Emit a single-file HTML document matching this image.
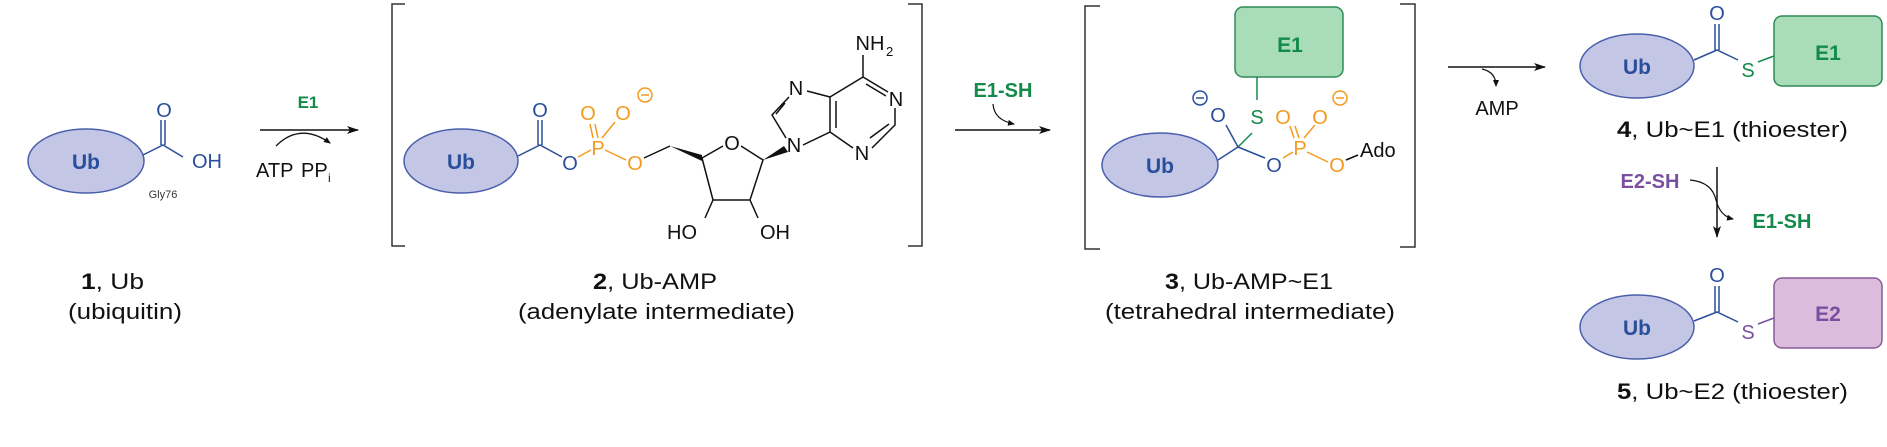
<!DOCTYPE html>
<html><head><meta charset="utf-8"><style>body{margin:0;background:#fff}svg{display:block}text{font-family:"Liberation Sans",Arial,sans-serif}</style></head><body>
<svg width="1887" height="447" viewBox="0 0 1887 447" xmlns="http://www.w3.org/2000/svg">
<defs><marker id="ah" markerWidth="12" markerHeight="8" refX="11" refY="4" orient="auto" markerUnits="userSpaceOnUse"><path d="M0,0 L12,4 L0,8 L3,4Z" fill="#111"/></marker>
<marker id="sh" markerWidth="7" markerHeight="6" refX="6" refY="3" orient="auto" markerUnits="userSpaceOnUse"><path d="M0,0 L7,3 L0,6Z" fill="#111"/></marker></defs>
<g fill="#c4c6e6" stroke="#4a5fab" stroke-width="1.5">
<ellipse cx="86" cy="161" rx="58" ry="32"/><ellipse cx="461" cy="161" rx="57" ry="32"/><ellipse cx="1160" cy="165" rx="58" ry="32"/><ellipse cx="1637" cy="66" rx="57" ry="32"/><ellipse cx="1637" cy="327" rx="57" ry="32"/></g>
<g font-weight="bold" font-size="21" fill="#2a4f9a" text-anchor="middle"><text x="86" y="169">Ub</text><text x="461" y="169">Ub</text><text x="1160" y="173">Ub</text><text x="1637" y="74">Ub</text><text x="1637" y="335">Ub</text></g>
<!-- 1 -->
<g stroke="#2a4f9a" stroke-width="1.5" fill="none"><path d="M143,155 L163,145 L183,157 M161,145 V120 M165,145 V120"/></g>
<g fill="#2a4f9a" font-size="20" text-anchor="middle"><text x="164" y="117">O</text><text x="207" y="168">OH</text></g>
<text x="163" y="198" font-size="11" fill="#333" text-anchor="middle">Gly76</text>
<line x1="260" y1="130" x2="358" y2="130" stroke="#111" stroke-width="1.5" marker-end="url(#ah)"/>
<path d="M276,146 Q300,122 330,143" stroke="#111" stroke-width="1.3" fill="none" marker-end="url(#sh)"/>
<text x="308" y="108" font-size="17" font-weight="bold" fill="#138a4a" text-anchor="middle">E1</text>
<text x="256" y="177" font-size="20" fill="#111">ATP</text><text x="301" y="177" font-size="20" fill="#111">PP</text><text x="328" y="182" font-size="12" fill="#111">i</text>
<!-- brackets -->
<g stroke="#333" stroke-width="1.5" fill="none"><path d="M405,4 H392 V246 H405"/><path d="M908,4 H922 V246 H908"/><path d="M1100,6 H1085 V249 H1100"/><path d="M1400,4 H1415 V247 H1400"/></g>
<!-- 2 -->
<g stroke="#2a4f9a" stroke-width="1.5" fill="none"><path d="M518,156 L540,145 L562,157 M538,145 V120 M542,145 V120"/></g>
<g fill="#2a4f9a" font-size="20" text-anchor="middle"><text x="540" y="117">O</text><text x="570" y="170">O</text></g>
<g stroke="#f39a1f" stroke-width="1.5" fill="none"><path d="M578,157 L591,150 M605,150 L626,160 M593,138 L590,124 M598,138 L595,124 M602,138 L615,122"/><circle cx="645" cy="95" r="7"/><path d="M641,95 H649"/></g>
<g fill="#f39a1f" font-size="20" text-anchor="middle"><text x="598" y="155">P</text><text x="588" y="120">O</text><text x="623" y="120">O</text><text x="635" y="170">O</text></g>
<g stroke="#111" stroke-width="1.5" fill="none"><path d="M644,158 L670,146 M702,158 L723,146 M741,146 L763,160 L750,200 L713,200 L702,158 M713,200 L705,218 M750,200 L758,218"/>
<path d="M789,97 L772,115 L786,138 M785,103 L776,114 M803,145 L830,132 L830,97 L807,91 M836,128 L836,101 M830,97 L863,77 L888,92 M863,77 V55 M866,84 L886,96 M895,108 L895,125 L872,148 M889,124 L870,138 M853,148 L830,132"/></g>
<path d="M670,146 L702,155 L702,161Z" fill="#111"/><path d="M763,160 L784,146 L788,152Z" fill="#111"/>
<g fill="#111" font-size="20" text-anchor="middle"><text x="732" y="150">O</text><text x="682" y="239">HO</text><text x="775" y="239">OH</text><text x="796" y="95">N</text><text x="794" y="152">N</text><text x="896" y="106">N</text><text x="862" y="160">N</text><text x="870" y="50">NH</text></g>
<text x="886" y="56" font-size="13" fill="#111">2</text>
<!-- arrow 2 -->
<line x1="955" y1="130" x2="1050" y2="130" stroke="#111" stroke-width="1.5" marker-end="url(#ah)"/>
<path d="M993,104 Q994,120 1014,124" stroke="#111" stroke-width="1.2" fill="none" marker-end="url(#sh)"/>
<text x="1003" y="97" font-size="20" font-weight="bold" fill="#138a4a" text-anchor="middle">E1-SH</text>
<!-- 3 -->
<rect x="1235" y="7" width="108" height="70" rx="8" fill="#a9dcb9" stroke="#2e8b57" stroke-width="1.5"/>
<text x="1290" y="52" font-size="21" font-weight="bold" fill="#138a4a" text-anchor="middle">E1</text>
<path d="M1257,77 V100 M1252,133 L1238,147" stroke="#138a4a" stroke-width="1.5"/>
<g stroke="#2a4f9a" stroke-width="1.5" fill="none"><path d="M1218,160 L1238,147 L1226,125 M1238,147 L1265,158"/><circle cx="1200" cy="98" r="7"/><path d="M1196,98 H1204"/></g>
<g fill="#2a4f9a" font-size="20" text-anchor="middle"><text x="1218" y="122">O</text><text x="1274" y="172">O</text></g>
<text x="1257" y="124" font-size="20" fill="#138a4a" text-anchor="middle">S</text>
<g stroke="#f39a1f" stroke-width="1.5" fill="none"><path d="M1283,158 L1293,152 M1307,152 L1328,162 M1294,138 L1290,126 M1299,138 L1295,126 M1304,138 L1315,125"/><circle cx="1340" cy="98" r="7"/><path d="M1336,98 H1344"/></g>
<g fill="#f39a1f" font-size="20" text-anchor="middle"><text x="1300" y="155">P</text><text x="1283" y="124">O</text><text x="1320" y="124">O</text><text x="1337" y="172">O</text></g>
<path d="M1346,160 L1358,155" stroke="#111" stroke-width="1.5"/>
<text x="1360" y="157" font-size="20" fill="#111">Ado</text>
<!-- AMP arrow -->
<line x1="1448" y1="67" x2="1545" y2="67" stroke="#111" stroke-width="1.5" marker-end="url(#ah)"/>
<path d="M1482,69 Q1496,72 1496,86" stroke="#111" stroke-width="1.2" fill="none" marker-end="url(#sh)"/>
<text x="1497" y="115" font-size="20" fill="#111" text-anchor="middle">AMP</text>
<!-- 4 -->
<g stroke="#2a4f9a" stroke-width="1.5" fill="none"><path d="M1694,60 L1717,50 L1738,60 M1715,50 V24 M1719,50 V24"/></g>
<text x="1717" y="20" font-size="20" fill="#2a4f9a" text-anchor="middle">O</text>
<text x="1748" y="77" font-size="20" fill="#138a4a" text-anchor="middle">S</text>
<path d="M1758,62 L1774,56" stroke="#138a4a" stroke-width="1.5"/>
<rect x="1774" y="16" width="108" height="70" rx="8" fill="#a9dcb9" stroke="#2e8b57" stroke-width="1.5"/>
<text x="1828" y="60" font-size="21" font-weight="bold" fill="#138a4a" text-anchor="middle">E1</text>
<!-- down arrow -->
<line x1="1717" y1="167" x2="1717" y2="237" stroke="#111" stroke-width="1.5" marker-end="url(#ah)"/>
<path d="M1690,180 Q1712,182 1716,200 Q1720,216 1733,219" stroke="#111" stroke-width="1.2" fill="none" marker-end="url(#sh)"/>
<text x="1650" y="188" font-size="20" font-weight="bold" fill="#7b4fa0" text-anchor="middle">E2-SH</text>
<text x="1782" y="228" font-size="20" font-weight="bold" fill="#138a4a" text-anchor="middle">E1-SH</text>
<!-- 5 -->
<g stroke="#2a4f9a" stroke-width="1.5" fill="none"><path d="M1694,321 L1717,312 L1738,322 M1715,312 V286 M1719,312 V286"/></g>
<text x="1717" y="282" font-size="20" fill="#2a4f9a" text-anchor="middle">O</text>
<text x="1748" y="339" font-size="20" fill="#7b4fa0" text-anchor="middle">S</text>
<path d="M1758,324 L1774,318" stroke="#7b4fa0" stroke-width="1.5"/>
<rect x="1774" y="278" width="108" height="70" rx="8" fill="#dcbcdc" stroke="#8a5a9a" stroke-width="1.5"/>
<text x="1828" y="321" font-size="21" font-weight="bold" fill="#7b4fa0" text-anchor="middle">E2</text>
<!-- labels -->
<g font-size="22" fill="#111">
<text x="81" y="289" textLength="63" lengthAdjust="spacingAndGlyphs"><tspan font-weight="bold">1</tspan>, Ub</text><text x="68" y="319" textLength="114" lengthAdjust="spacingAndGlyphs">(ubiquitin)</text>
<text x="593" y="289" textLength="124" lengthAdjust="spacingAndGlyphs"><tspan font-weight="bold">2</tspan>, Ub-AMP</text><text x="518" y="319" textLength="277" lengthAdjust="spacingAndGlyphs">(adenylate intermediate)</text>
<text x="1165" y="289" textLength="168" lengthAdjust="spacingAndGlyphs"><tspan font-weight="bold">3</tspan>, Ub-AMP~E1</text><text x="1105" y="319" textLength="290" lengthAdjust="spacingAndGlyphs">(tetrahedral intermediate)</text>
<text x="1617" y="137" textLength="231" lengthAdjust="spacingAndGlyphs"><tspan font-weight="bold">4</tspan>, Ub~E1 (thioester)</text>
<text x="1617" y="399" textLength="231" lengthAdjust="spacingAndGlyphs"><tspan font-weight="bold">5</tspan>, Ub~E2 (thioester)</text>
</g>
</svg>
</body></html>
